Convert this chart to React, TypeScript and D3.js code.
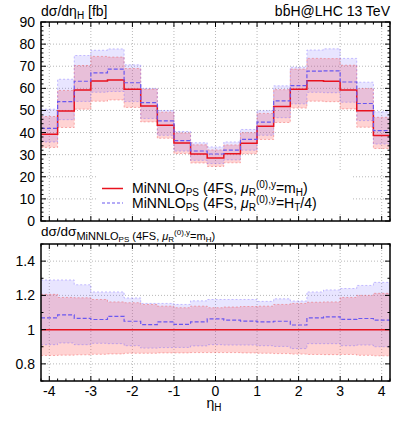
import React from "react";
import * as d3 from "d3";

// ---- data ----
const etaEdges = [-4.2, -3.8, -3.4, -3.0, -2.6, -2.2, -1.8, -1.4, -1.0, -0.6, -0.2, 0.2, 0.6, 1.0, 1.4, 1.8, 2.2, 2.6, 3.0, 3.4, 3.8, 4.2];
const xTicks = [-4, -3, -2, -1, 0, 1, 2, 3, 4];
const yTicksTop = [0, 10, 20, 30, 40, 50, 60, 70, 80, 90];
const yTicksBottom = [0.8, 1, 1.2, 1.4];

// MiNNLO_PS (4FS, muR = mH) central value [fb]
const redCentral = [39.2, 49.7, 59.3, 63.3, 63.8, 59.6, 52.0, 43.3, 35.3, 30.3, 28.5, 30.4, 35.2, 42.8, 51.8, 59.6, 63.4, 63.2, 59.3, 49.9, 38.7];
// ratios to red central
const redUp = [1.206, 1.188, 1.186, 1.176, 1.162, 1.157, 1.147, 1.137, 1.128, 1.137, 1.128, 1.132, 1.135, 1.137, 1.147, 1.153, 1.160, 1.162, 1.188, 1.200, 1.212];
const redDown = [0.849, 0.851, 0.853, 0.856, 0.858, 0.862, 0.862, 0.864, 0.864, 0.866, 0.866, 0.866, 0.864, 0.862, 0.860, 0.857, 0.855, 0.854, 0.855, 0.850, 0.847];
const blueRatio = [1.069, 1.086, 1.066, 1.059, 1.077, 1.049, 1.029, 1.045, 1.031, 1.045, 1.063, 1.055, 1.050, 1.045, 1.049, 1.027, 1.069, 1.075, 1.060, 1.065, 1.055];
const blueUp = [1.290, 1.290, 1.262, 1.220, 1.220, 1.185, 1.153, 1.153, 1.147, 1.168, 1.176, 1.176, 1.176, 1.165, 1.180, 1.167, 1.220, 1.232, 1.240, 1.258, 1.276];
const blueDown = [0.912, 0.922, 0.912, 0.920, 0.918, 0.906, 0.892, 0.895, 0.896, 0.905, 0.912, 0.910, 0.910, 0.906, 0.902, 0.889, 0.918, 0.918, 0.906, 0.910, 0.900];

const FONT = "'Liberation Sans', Arial, Helvetica, sans-serif";
const RED = "#e8121e";
const BLUE = "#6a58f0";
const RED_FILL = "rgba(255,80,80,0.25)";
const BLUE_FILL = "rgba(100,80,255,0.15)";
const RED_EDGE = "rgba(240,90,90,0.6)";
const BLUE_EDGE = "rgba(120,100,255,0.5)";

const W = 407, H = 429;
const L = 41, R = 390;
const T1 = 22, B1 = 221, T2 = 244, B2 = 381;

type Pt = [number, number];
type Bd = { e: number; lo: number; hi: number };

function steps(vals: number[]): Pt[] {
  const n = vals.length;
  const pts: Pt[] = vals.map((v, i) => [etaEdges[i], v] as Pt);
  pts.push([etaEdges[n], vals[n - 1]]);
  return pts;
}
function bandPts(lo: number[], hi: number[]): Bd[] {
  const n = lo.length;
  const pts: Bd[] = lo.map((v, i) => ({ e: etaEdges[i], lo: v, hi: hi[i] }));
  pts.push({ e: etaEdges[n], lo: lo[n - 1], hi: hi[n - 1] });
  return pts;
}

export default function App() {
  const x = d3.scaleLinear().domain([-4.2, 4.2]).range([L, R]);
  const y1 = d3.scaleLinear().domain([0, 90]).range([B1, T1]);
  const y2 = d3.scaleLinear().domain([0.7, 1.5]).range([B2, T2]);

  const mul = (a: number[]) => a.map((r, i) => r * redCentral[i]);
  const blueCentral = mul(blueRatio);

  const mkLine = (ys: d3.ScaleLinear<number, number>) =>
    d3.line<Pt>().x(d => x(d[0])).y(d => ys(d[1])).curve(d3.curveStepAfter);
  const mkArea = (ys: d3.ScaleLinear<number, number>) =>
    d3.area<Bd>().x(d => x(d.e)).y0(d => ys(d.lo)).y1(d => ys(d.hi)).curve(d3.curveStepAfter);

  const l1 = mkLine(y1), l2 = mkLine(y2), a1 = mkArea(y1), a2 = mkArea(y2);

  const xMinor = d3.range(-42, 43, 2).map(v => v / 10).filter(v => Math.abs(v - Math.round(v)) > 1e-6);
  const y1Minor = d3.range(0, 91, 2).filter(v => v % 10 !== 0);
  const y2Minor = [0.7, 0.9, 1.1, 1.3, 1.5];

  const grid = "#b8b8b8";

  const panel = (
    top: number, bottom: number, ys: d3.ScaleLinear<number, number>,
    line: d3.Line<Pt>, area: d3.Area<Bd>,
    data: { rc: number[]; ru: number[]; rd: number[]; bc: number[]; bu: number[]; bd: number[] },
    yMajor: number[], yMinor: number[], yFmt: (v: number) => string, gridY: number[], clipId: string,
    extra?: React.ReactNode
  ) => (
    <g>
      <defs>
        <clipPath id={clipId}><rect x={L} y={top} width={R - L} height={bottom - top} /></clipPath>
      </defs>
      <g clipPath={`url(#${clipId})`}>
        {xTicks.map(t => (
          <line key={"gx" + t} x1={x(t)} x2={x(t)} y1={top} y2={bottom} stroke={grid} strokeWidth={1} strokeDasharray="1,2" />
        ))}
        {gridY.map(t => (
          <line key={"gy" + t} x1={L} x2={R} y1={ys(t)} y2={ys(t)} stroke={grid} strokeWidth={1} strokeDasharray="1,2" />
        ))}
        {extra}
        <path d={area(bandPts(data.rd, data.ru)) || ""} fill={RED_FILL} stroke="none" />
        <path d={area(bandPts(data.bd, data.bu)) || ""} fill={BLUE_FILL} stroke="none" />
        <path d={line(steps(data.ru)) || ""} fill="none" stroke={RED_EDGE} strokeWidth={0.8} strokeDasharray="2,2" />
        <path d={line(steps(data.rd)) || ""} fill="none" stroke={RED_EDGE} strokeWidth={0.8} strokeDasharray="2,2" />
        <path d={line(steps(data.bu)) || ""} fill="none" stroke={BLUE_EDGE} strokeWidth={0.8} strokeDasharray="2,2" />
        <path d={line(steps(data.bd)) || ""} fill="none" stroke={BLUE_EDGE} strokeWidth={0.8} strokeDasharray="2,2" />
        <path d={line(steps(data.rc)) || ""} fill="none" stroke={RED} strokeWidth={1.5} />
        <path d={line(steps(data.bc)) || ""} fill="none" stroke={BLUE} strokeWidth={1.2} strokeDasharray="4,2" />
      </g>
      {xTicks.map(t => (
        <g key={"xt" + t}>
          <line x1={x(t)} x2={x(t)} y1={bottom} y2={bottom - 5} stroke="#000" />
          <line x1={x(t)} x2={x(t)} y1={top} y2={top + 5} stroke="#000" />
        </g>
      ))}
      {xMinor.map(t => (
        <g key={"xm" + t}>
          <line x1={x(t)} x2={x(t)} y1={bottom} y2={bottom - 2.5} stroke="#000" />
          <line x1={x(t)} x2={x(t)} y1={top} y2={top + 2.5} stroke="#000" />
        </g>
      ))}
      {yMajor.map(t => (
        <g key={"yt" + t}>
          <line x1={L} x2={L + 5} y1={ys(t)} y2={ys(t)} stroke="#000" />
          <line x1={R} x2={R - 5} y1={ys(t)} y2={ys(t)} stroke="#000" />
          <text x={L - 6} y={ys(t) + 5} textAnchor="end" fontSize={14} fontFamily={FONT}>{yFmt(t)}</text>
        </g>
      ))}
      {yMinor.map(t => (
        <g key={"ym" + t}>
          <line x1={L} x2={L + 2.5} y1={ys(t)} y2={ys(t)} stroke="#000" />
          <line x1={R} x2={R - 2.5} y1={ys(t)} y2={ys(t)} stroke="#000" />
        </g>
      ))}
      <rect x={L} y={top} width={R - L} height={bottom - top} fill="none" stroke="#000" strokeWidth={1.5} />
    </g>
  );

  const legendBox = (
    <rect x={96} y={170} width={256} height={44} fill="#fff" />
  );

  return (
    <svg width={W} height={H} style={{ position: "absolute", left: 0, top: 0, background: "#fff" }} fontFamily={FONT}>
      <rect x={0} y={0} width={W} height={H} fill="#fff" />
      {panel(T1, B1, y1, l1, a1,
        { rc: redCentral, ru: mul(redUp), rd: mul(redDown), bc: blueCentral, bu: mul(blueUp), bd: mul(blueDown) },
        yTicksTop, y1Minor, v => String(v), [10, 20, 30, 40, 50, 60, 70, 80], "clipTop", legendBox)}
      {panel(T2, B2, y2, l2, a2,
        { rc: redCentral.map(() => 1), ru: redUp, rd: redDown, bc: blueRatio, bu: blueUp, bd: blueDown },
        yTicksBottom, y2Minor, v => (v === 1 ? "1" : String(v)), [0.8, 1.2, 1.4], "clipBot")}

      {/* legend */}
      <line x1={102} x2={123} y1={188.5} y2={188.5} stroke={RED} strokeWidth={1.5} />
      <line x1={102} x2={123} y1={203} y2={203} stroke={BLUE} strokeWidth={1.2} strokeDasharray="3,2" />
      <text x={132} y={193} fontSize={14}>
        MiNNLO<tspan fontSize={10} dy={3}>PS</tspan>
        <tspan dy={-3}> (4FS, </tspan><tspan fontStyle="italic">μ</tspan>
        <tspan fontSize={10} dy={3}>R</tspan>
        <tspan fontSize={10} dy={-8.5}>(0),y</tspan>
        <tspan dy={5.5}>=m</tspan>
        <tspan fontSize={10} dy={2.5}>H</tspan>
        <tspan dy={-2.5}>)</tspan>
      </text>
      <text x={132} y={207.5} fontSize={14}>
        MiNNLO<tspan fontSize={10} dy={3}>PS</tspan>
        <tspan dy={-3}> (4FS, </tspan><tspan fontStyle="italic">μ</tspan>
        <tspan fontSize={10} dy={3}>R</tspan>
        <tspan fontSize={10} dy={-8}>(0),y</tspan>
        <tspan dy={5}>=H</tspan>
        <tspan fontSize={10} dy={3}>T</tspan>
        <tspan dy={-3}>/4)</tspan>
      </text>

      {/* titles */}
      <text x={41} y={16} fontSize={14}>
        dσ/dη<tspan fontSize={10} dy={3}>H</tspan><tspan dy={-3}> [fb]</tspan>
      </text>
      <text x={390} y={16} fontSize={14} textAnchor="end">b{"b\u0304"}H@LHC 13 TeV</text>

      <text x={41} y={236} fontSize={13.5}>
        dσ/dσ<tspan fontSize={11} dy={3.5}>MiNNLO</tspan><tspan fontSize={8} dy={2.5}>PS</tspan>
        <tspan fontSize={11} dy={-2.5}> (4FS, </tspan><tspan fontSize={11} fontStyle="italic">μ</tspan>
        <tspan fontSize={8} dy={2.5}>R</tspan>
        <tspan fontSize={8} dy={-7.5}>(0),y</tspan>
        <tspan fontSize={11} dy={5}>=m</tspan>
        <tspan fontSize={8} dy={2.5}>H</tspan>
        <tspan fontSize={11} dy={-2.5}>)</tspan>
      </text>

      {/* x tick labels */}
      {xTicks.map(t => (
        <text key={"xl" + t} x={x(t)} y={396} fontSize={14} textAnchor="middle">{String(t)}</text>
      ))}
      <text x={214} y={408} fontSize={14} textAnchor="middle">
        η<tspan fontSize={10} dy={3}>H</tspan>
      </text>
    </svg>
  );
}
